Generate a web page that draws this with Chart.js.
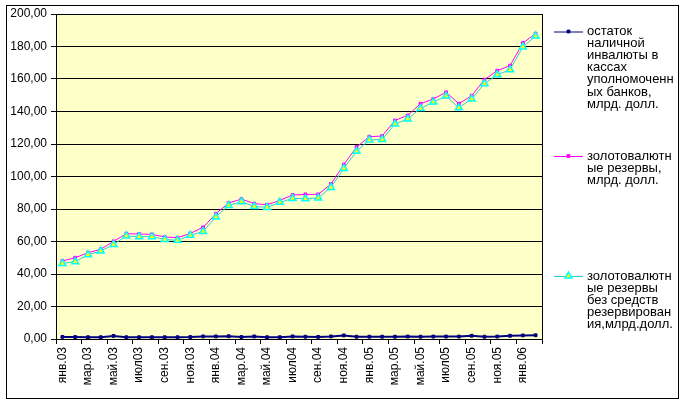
<html>
   <head>
      <meta charset="utf-8" />
      <script src="https://cdn.jsdelivr.net/npm/chart.js@4.4.0/dist/chart.umd.min.js"></script>
   </head>
   <style>
      html,
      body {
         margin: 0;
         background: #fff;
      }
   </style>

   <body>
      <canvas id="myChart" width="689" height="404"></canvas>
   </body>
   <script>
      // months Jan 2003 .. Feb 2006
      const monthNames = ["янв.", "фев.", "мар.", "апр.", "май.", "июн.", "июл", "авг.", "сен.", "окт.", "ноя.", "дек."];
      const years = ["03", "04", "05", "06"];
      const monthCount = 38;

      // остаток наличной инвалюты в кассах уполномоченных банков
      const cashInBanks = [
         1.3, 1.2, 1.1, 1.1, 1.9, 1.1, 1.1, 1.1, 1.1, 1.1, 1.2, 1.6,
         1.6, 1.7, 1.2, 1.6, 1.1, 1.1, 1.6, 1.4, 1.3, 1.6, 2.2, 1.4,
         1.4, 1.4, 1.4, 1.5, 1.4, 1.5, 1.5, 1.5, 2.0, 1.4, 1.5, 2.0,
         2.2, 2.3,
      ];

      // золотовалютные резервы
      const reserves = [
         48.0, 50.0, 53.1, 55.2, 60.1, 64.8, 64.6, 64.4, 62.8, 62.3, 65.0, 68.7,
         77.1, 83.7, 86.1, 83.3, 82.6, 85.3, 88.6, 89.0, 89.0, 95.4, 107.3, 118.1,
         124.5, 124.9, 134.5, 137.6, 144.8, 147.7, 151.8, 144.8, 149.7, 159.6, 165.1, 168.2,
         182.1, 187.9,
      ];

      // золотовалютные резервы без средств резервирования
      const reservesNet = [
         46.5, 47.6, 51.9, 54.1, 58.2, 63.4, 63.0, 63.0, 61.3, 60.7, 63.8, 66.2,
         75.1, 82.2, 84.5, 81.6, 81.0, 84.1, 86.5, 86.3, 86.8, 93.3, 105.0, 115.5,
         122.5, 122.8, 132.3, 135.4, 141.9, 145.8, 149.5, 142.3, 147.7, 157.1, 162.6, 165.7,
         179.7, 186.4,
      ];

      const seriesNames = [
         ["остаток", "наличной", "инвалюты в", "кассах", "уполномоченн", "ых банков,", "млрд. долл."],
         ["золотовалютн", "ые резервы,", "млрд. долл."],
         ["золотовалютн", "ые резервы", "без средств", "резервирован", "ия,млрд.долл."],
      ];

      let labels = [];
      for (let i = 0; i < monthCount; i++) {
         labels.push(monthNames[i % 12] + years[Math.floor(i / 12)]);
      }

      // background of plot + outer frame
      const framePlugin = {
         id: "frame",
         beforeDraw(chart) {
            const ctx = chart.ctx;
            const a = chart.chartArea;
            ctx.save();
            ctx.fillStyle = "#fff";
            ctx.fillRect(0, 0, chart.width, chart.height);
            ctx.strokeStyle = "#000";
            ctx.lineWidth = 1;
            ctx.strokeRect(6.5, 5.5, 672, 393);
            ctx.fillStyle = "#FFFFC8";
            ctx.fillRect(a.left, a.top, a.right - a.left, a.bottom - a.top);
            ctx.restore();
         },
         afterDatasetsDraw(chart) {
            const ctx = chart.ctx;
            const a = chart.chartArea;
            ctx.save();
            ctx.strokeStyle = "#000";
            ctx.lineWidth = 1;
            ctx.strokeRect(a.left + 0.5, a.top + 0.5, a.right - a.left, a.bottom - a.top);
            ctx.restore();
         },
      };

      // legend at the right, as in the excel picture
      const sideLegend = {
         id: "sideLegend",
         afterDraw(chart) {
            const ctx = chart.ctx;
            const x0 = chart.chartArea.right + 12;
            const rows = [31.5, 156, 276];
            ctx.save();
            ctx.font = "13px 'Liberation Sans', Arial, sans-serif";
            ctx.textBaseline = "middle";
            ctx.fillStyle = "#000";
            chart.data.datasets.forEach((ds, k) => {
               const y = rows[k];
               ctx.strokeStyle = ds.borderColor;
               ctx.lineWidth = 1;
               ctx.beginPath();
               ctx.moveTo(x0, y + 0.5);
               ctx.lineTo(x0 + 29, y + 0.5);
               ctx.stroke();
               ctx.fillStyle = ds.pointBackgroundColor;
               ctx.strokeStyle = ds.pointBorderColor;
               ctx.lineWidth = ds.pointBorderWidth;
               Chart.helpers.drawPoint(ctx, {pointStyle: ds.pointStyle, radius: ds.pointRadius, rotation: 0, borderWidth: ds.pointBorderWidth}, x0 + 14.5, y);
               ctx.fillStyle = "#000";
               seriesNames[k].forEach((line, j) => {
                  ctx.fillText(line, x0 + 33, y + j * 12.1);
               });
            });
            ctx.restore();
         },
      };

      const config = {
         type: "line",
         data: {
            labels: labels,
            datasets: [
               {
                  label: seriesNames[0].join(" "),
                  data: cashInBanks,
                  borderColor: "#000080",
                  borderWidth: 2,
                  pointStyle: "rect",
                  pointRadius: 2,
                  pointBackgroundColor: "#000080",
                  pointBorderColor: "#000080",
                  pointBorderWidth: 1,
                  lineTension: 0,
                  order: 2,
               },
               {
                  label: seriesNames[1].join(" "),
                  data: reserves,
                  borderColor: "#FF00FF",
                  borderWidth: 1,
                  pointStyle: "rect",
                  pointRadius: 2,
                  pointBackgroundColor: "#FF00FF",
                  pointBorderColor: "#FF00FF",
                  pointBorderWidth: 1,
                  lineTension: 0,
                  order: 1,
               },
               {
                  label: seriesNames[2].join(" "),
                  data: reservesNet,
                  borderColor: "#33CCCC",
                  borderWidth: 1,
                  pointStyle: "triangle",
                  pointRadius: 4,
                  pointBackgroundColor: "#FFFF00",
                  pointBorderColor: "#00FFFF",
                  pointBorderWidth: 1.5,
                  lineTension: 0,
                  order: 0,
               },
            ],
         },
         options: {
            responsive: false,
            animation: false,
            layout: {
               padding: {left: 0, top: 14, right: 147, bottom: 0},
            },
            plugins: {
               legend: {display: false},
               tooltip: {enabled: false},
            },
            scales: {
               x: {
                  offset: true,
                  grid: {
                     offset: true,
                     drawOnChartArea: false,
                     tickLength: 5,
                     tickColor: (c) => (c.index % 2 ? "rgba(0,0,0,0)" : "#000"),
                  },
                  border: {color: "#000"},
                  ticks: {
                     autoSkip: false,
                     minRotation: 90,
                     maxRotation: 90,
                     padding: 3,
                     color: "#000",
                     font: {family: "'Liberation Sans', Arial, sans-serif", size: 12},
                     callback: function (val, index) {
                        return index % 2 ? "" : this.getLabelForValue(val);
                     },
                  },
                  afterFit: (s) => {
                     s.height = 65;
                  },
               },
               y: {
                  min: 0,
                  max: 200,
                  grid: {color: "#000", tickLength: 5},
                  border: {color: "#000"},
                  ticks: {
                     stepSize: 20,
                     padding: 4,
                     color: "#000",
                     font: {family: "'Liberation Sans', Arial, sans-serif", size: 12},
                     callback: (v) => v.toFixed(2).replace(".", ","),
                  },
                  afterFit: (s) => {
                     s.width = 56;
                  },
               },
            },
         },
         plugins: [framePlugin, sideLegend],
      };

      new Chart(document.getElementById("myChart"), config);
   </script>
</html>
